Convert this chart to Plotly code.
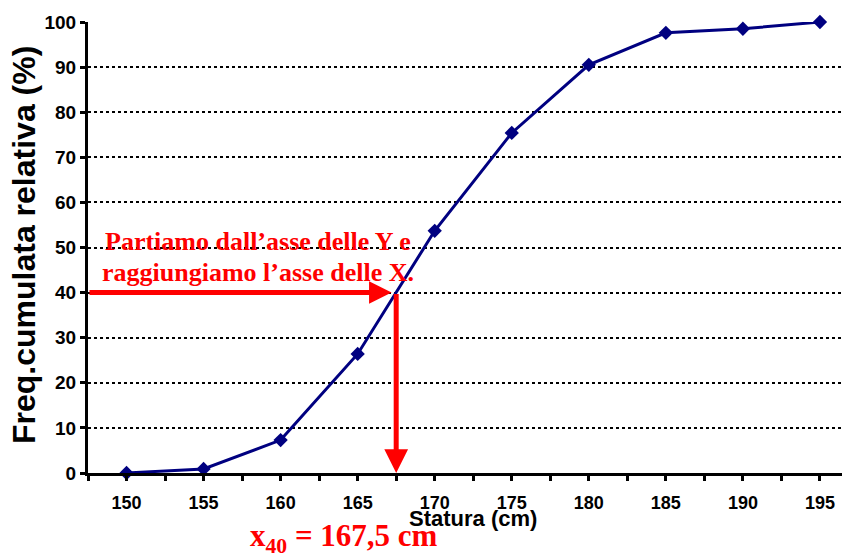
import plotly.graph_objects as go

# Data
statura = [150, 155, 160, 165, 170, 175, 180, 185, 190, 195]
freq_cum = [0, 0.9, 7.3, 26.4, 53.7, 75.4, 90.5, 97.6, 98.5, 100]
x_tick_labels = [str(v) for v in statura]
y_ticks = [0, 10, 20, 30, 40, 50, 60, 70, 80, 90, 100]
percentile = 40
x40 = 167.5

fig = go.Figure()
fig.add_trace(go.Scatter(
    x=statura, y=freq_cum, mode="lines+markers",
    line=dict(color="#000080", width=3),
    marker=dict(symbol="diamond", size=11, color="#000080"),
    cliponaxis=False, showlegend=False,
))

red = "#FF0000"
# horizontal arrow from Y axis to the curve
fig.add_annotation(x=x40 - 0.3, y=percentile, ax=147.5, ay=percentile,
                   xref="x", yref="y", axref="x", ayref="y",
                   showarrow=True, arrowhead=2, arrowsize=0.9, arrowwidth=5,
                   arrowcolor=red, text="", standoff=0)
# vertical arrow from the curve down to X axis
fig.add_annotation(x=x40, y=0, ax=x40, ay=percentile,
                   xref="x", yref="y", axref="x", ayref="y",
                   showarrow=True, arrowhead=2, arrowsize=0.95, arrowwidth=5,
                   arrowcolor=red, text="", standoff=0)

# Page has an 8px body margin: figure is drawn 8px right/down.
PLOT_L, PLOT_T, PLOT_W, PLOT_H = 88, 22, 762, 451  # in reference pixels


def px(x):
    return (x - PLOT_L) / PLOT_W


def py(y):
    return (PLOT_T + PLOT_H - y) / PLOT_H


serif = "Liberation Serif"
fig.add_annotation(x=px(258), y=py(241), xref="paper", yref="paper",
                   xanchor="center", yanchor="middle", showarrow=False,
                   text="<b>Partiamo dall’asse delle Y e</b>",
                   font=dict(family=serif, size=26, color=red))
fig.add_annotation(x=px(258), y=py(272), xref="paper", yref="paper",
                   xanchor="center", yanchor="middle", showarrow=False,
                   text="<b>raggiungiamo l’asse delle X.</b>",
                   font=dict(family=serif, size=26, color=red))
fig.add_annotation(x=px(344), y=py(538), xref="paper", yref="paper",
                   xanchor="center", yanchor="middle", showarrow=False,
                   text="<b>x<sub>40</sub> = 167,5 cm</b>",
                   font=dict(family=serif, size=31, color=red))

sans = "Liberation Sans"
# axis titles
fig.add_annotation(x=px(473), y=py(518), xref="paper", yref="paper",
                   xanchor="center", yanchor="middle", showarrow=False,
                   text="<b>Statura (cm)</b>",
                   font=dict(family=sans, size=22, color="black"))
fig.add_annotation(x=px(24), y=py(245), xref="paper", yref="paper",
                   xanchor="center", yanchor="middle", showarrow=False,
                   textangle=-90,
                   text="<b>Freq.cumulata relativa (%)</b>",
                   font=dict(family=sans, size=32, color="black"))

fig.update_layout(
    width=842, height=547,
    margin=dict(l=80, r=0, t=14, b=82, autoexpand=False),
    paper_bgcolor="white", plot_bgcolor="white",
    font=dict(family=sans, color="black"),
    xaxis=dict(
        range=[147.5, 196.95], tickmode="array", tickvals=statura,
        ticktext=["<b>%s</b>" % t for t in x_tick_labels],
        tickfont=dict(size=18, family=sans),
        ticks="outside", ticklen=5, tickwidth=3, tickcolor="black",
        ticklabelstandoff=6,
        minor=dict(tick0=147.5, dtick=5, ticks="outside", ticklen=5,
                   tickwidth=3, tickcolor="black", showgrid=False),
        showline=True, linecolor="black", linewidth=3,
        showgrid=False, zeroline=False, automargin=False,
    ),
    yaxis=dict(
        range=[0, 100], tickmode="array", tickvals=y_ticks,
        ticktext=["<b>%d</b>" % v for v in y_ticks],
        tickfont=dict(size=19, family=sans),
        ticks="outside", ticklen=5, tickwidth=3, tickcolor="black",
        showline=True, linecolor="black", linewidth=3,
        showgrid=True, gridcolor="black", gridwidth=2, griddash="dot",
        zeroline=False, automargin=False,
    ),
)

fig.write_html("out.html")
